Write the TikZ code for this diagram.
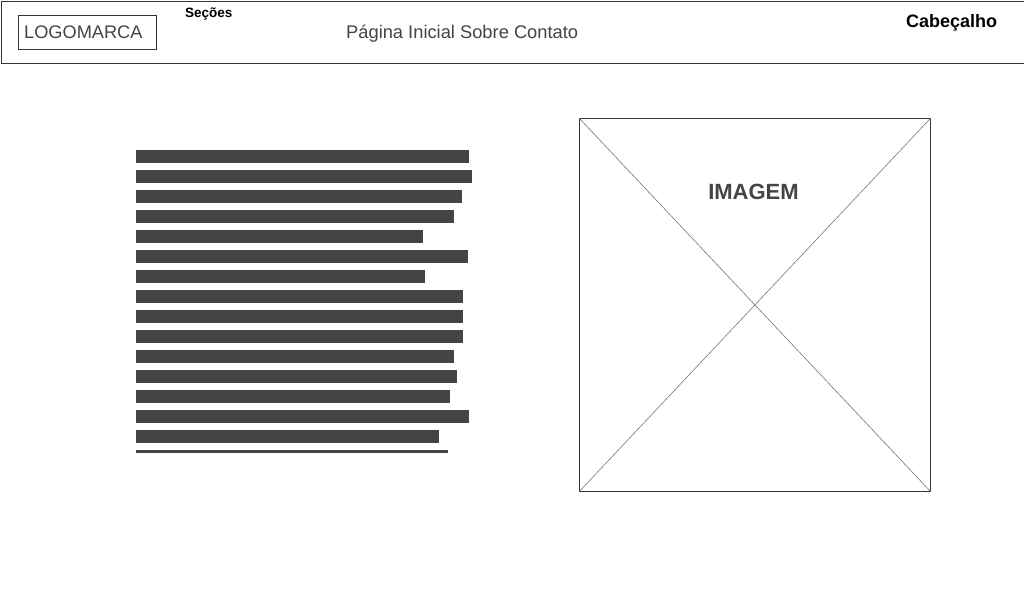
\documentclass[tikz,border=0pt]{standalone}
\usepackage{fontspec}
\setmainfont{Liberation Sans}
\definecolor{txtgray}{HTML}{444444}
\definecolor{linegray}{HTML}{333333}
\definecolor{bargray}{HTML}{444444}
\definecolor{diaggray}{HTML}{777777}
\tikzset{
  frame/.style={draw=linegray, line width=0.8pt, fill=white},
  bar/.style={fill=bargray, draw=none, inner sep=0pt, anchor=north west, minimum height=13pt},
  lbl/.style={inner sep=0pt, text=txtgray, anchor=base west},
}
\begin{document}
\begin{tikzpicture}[x=1pt,y=-1pt]
\useasboundingbox (0,0) rectangle (1024,600);
\fill[white] (0,0) rectangle (1024,600);
% header
\node[frame, anchor=north west, minimum width=1023pt, minimum height=62pt, inner sep=0pt] (header) at (0.5,1) {};
\node[frame, anchor=north west, minimum width=138pt, minimum height=34pt, inner sep=0pt] (logo) at (18,15) {};
\node[lbl] (logotxt) at (24,38.5) {\fontsize{18.2}{21}\selectfont LOGOMARCA};
\node[lbl, text=black] (secoes) at (185,17.5) {\fontsize{13.5}{16}\selectfont\bfseries Seções};
\node[lbl] (menu) at (346,38.3) {\fontsize{18.3}{21}\selectfont Página Inicial Sobre Contato};
\node[lbl, text=black] (cab) at (906,27.5) {\fontsize{18}{21}\selectfont\bfseries Cabeçalho};
% text bars
\foreach \i/\e in {1/469,2/472,3/462,4/454,5/423,6/468,7/425,8/463,9/463,10/463,11/454,12/457,13/450,14/469,15/439}{
  \pgfmathsetmacro{\w}{\e-136}
  \pgfmathsetmacro{\yy}{150+20*(\i-1)}
  \node[bar, minimum width=\w pt] (bar\i) at (136,\yy) {};
}
\node[bar, minimum width=312pt, minimum height=3pt] (bar16) at (136,450) {};
% image placeholder
\node[frame, anchor=north west, minimum width=351pt, minimum height=373pt, inner sep=0pt, fill=none] (img) at (579,118) {};
\draw[diaggray, line width=0.6pt] (img.north west) -- (img.south east);
\draw[diaggray, line width=0.6pt] (img.south west) -- (img.north east);
\node[inner sep=0pt, text=txtgray, anchor=base] (imgtxt) at (753.5,199.3) {\fontsize{22}{26}\selectfont\bfseries IMAGEM};
\end{tikzpicture}
\end{document}
